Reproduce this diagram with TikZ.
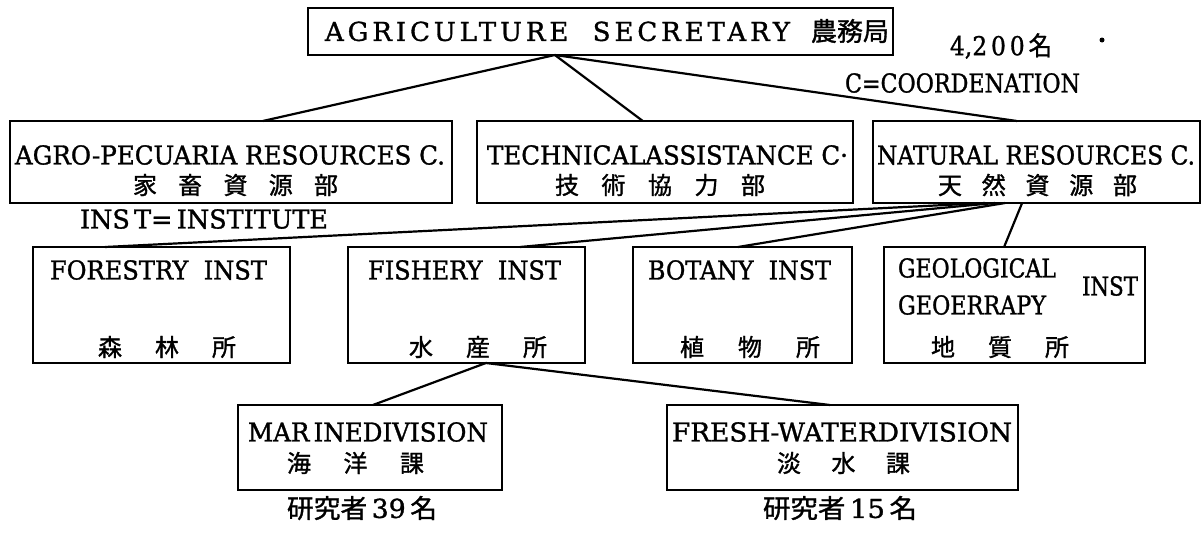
\documentclass[tikz,border=0pt]{standalone}
\usepackage{fontspec}
\setmainfont{DejaVu Serif}[FakeBold=1.2]
\newfontfamily\cjk{Noto Sans CJK JP}[FakeBold=1.2]
\usetikzlibrary{calc}
\newsavebox\fitbx
\newcommand\fitw[2]{\sbox\fitbx{#2}\pgfmathsetmacro\fitfac{#1/(\the\wd\fitbx)}\scalebox{\fitfac}[1]{\usebox\fitbx}}
\newcommand\cjkspread[2]{\makebox[#1pt][s]{\cjk #2}}
\newcommand\bxn[5]{\node[bx, minimum width={(#4-#2)*0.5pt}, minimum height={(#5-#3)*0.5pt}] (#1) at ({(#2+#4)/2},{(#3+#5)/2}) {};}
\begin{document}
\begin{tikzpicture}[x=0.5pt,y=-0.5pt,
  bx/.style={draw, line width=1.3pt, inner sep=0pt, outer sep=0pt},
  tx/.style={inner sep=0pt, font=\fontsize{13}{15}\selectfont},
  cj/.style={inner sep=0pt, font=\fontsize{12}{14}\selectfont\cjk},
  ln/.style={line width=1.1pt}]
\fill[white] (0,0) rectangle (1204,536);
\useasboundingbox (0,0) rectangle (1204,536);
% boxes
\bxn{top}{308}{8}{893}{55}
\bxn{agro}{10}{121}{452}{203}
\bxn{tech}{477}{121}{853}{203}
\bxn{nat}{873}{121}{1200}{203}
\bxn{forest}{33}{247}{290}{363}
\bxn{fish}{348}{247}{585}{363}
\bxn{bot}{633}{247}{852}{363}
\bxn{geo}{884}{247}{1145}{363}
\bxn{marine}{238}{405}{502}{490}
\bxn{fresh}{667}{405}{1018}{490}
% texts
\node[tx] (ttop) at (603.5,31) {\fitw{232.5}{\addfontfeatures{LetterSpace=15}AGRICULTURE\ \ SECRETARY}\hspace{10.5pt}\cjkspread{35.5}{農\hfill 務\hfill 局}};
\node[tx] (n4200) at (1001,46) {\fitw{51}{4,2\,0\,0\,{\cjk 名}}};
\node[circle, fill, inner sep=0pt, minimum size=2.5pt] (dot) at (1102,40) {};
\node[tx] (coord) at (962.5,83) {\fitw{117.5}{C=COORDENATION}};
\node[tx] (agro1) at (230,155) {\fitw{215}{AGRO-PECUARIA RESOURCES C.}};
\node[cj] (agro2) at (235.5,185) {\cjkspread{102.5}{家\hfill 畜\hfill 資\hfill 源\hfill 部}};
\node[tx] (tech1) at (667.5,155) {\fitw{180.5}{TECHNICALASSISTANCE C·}};
\node[cj] (tech2) at (660,185) {\cjkspread{105}{技\hfill 術\hfill 協\hfill 力\hfill 部}};
\node[tx] (nat1) at (1036,155) {\fitw{159}{NATURAL RESOURCES C.}};
\node[cj] (nat2) at (1037.5,185) {\cjkspread{99.5}{天\hfill 然\hfill 資\hfill 源\hfill 部}};
\node[tx] (instdef) at (204,219) {\fitw{124}{INS\,T=\,INSTITUTE}};
\node[tx] (forest1) at (158.5,270) {\fitw{108.5}{FORESTRY\ \ INST}};
\node[cj] (forest2) at (167,347) {\cjkspread{69}{森\hfill 林\hfill 所}};
\node[tx] (fish1) at (464.5,270) {\fitw{96.5}{FISHERY\ \ INST}};
\node[cj] (fish2) at (478,347) {\cjkspread{69}{水\hfill 産\hfill 所}};
\node[tx] (bot1) at (739.5,270) {\fitw{91.5}{BOTANY\ \ INST}};
\node[cj] (bot2) at (750,347) {\cjkspread{70}{植\hfill 物\hfill 所}};
\node[tx] (geo1) at (977,268) {\fitw{79}{GEOLOGICAL}};
\node[tx] (geo2) at (972,305) {\fitw{74}{GEOERRAPY}};
\node[tx] (geo3) at (1110,286) {\fitw{28}{INST}};
\node[cj] (geo4) at (1000,347) {\cjkspread{69}{地\hfill 質\hfill 所}};
\node[tx] (mar1) at (368,432) {\fitw{120}{MAR\,INEDIVISION}};
\node[cj] (mar2) at (355.5,463) {\cjkspread{68.5}{海\hfill 洋\hfill 課}};
\node[tx] (fre1) at (842,432) {\fitw{170}{FRESH-WATERDIVISION}};
\node[cj] (fre2) at (843.5,463) {\cjkspread{66.5}{淡\hfill 水\hfill 課}};
\node[tx] (res39) at (362,508) {\fitw{75}{{\cjk 研究者}\,39\,{\cjk 名}}};
\node[tx] (res15) at (840,508) {\fitw{77}{{\cjk 研究者}\,15\,{\cjk 名}}};
% connectors
\draw[ln] ($(top.south west)!0.422!(top.south east)$) -- ($(agro.north west)!0.572!(agro.north east)$);
\draw[ln] ($(top.south west)!0.422!(top.south east)$) -- ($(tech.north west)!0.441!(tech.north east)$);
\draw[ln] ($(top.south west)!0.422!(top.south east)$) -- ($(nat.north west)!0.44!(nat.north east)$);
\draw[ln] ($(nat.south west)!0.343!(nat.south east)$) -- ($(forest.north west)!0.28!(forest.north east)$);
\draw[ln] ($(nat.south west)!0.373!(nat.south east)$) -- ($(fish.north west)!0.726!(fish.north east)$);
\draw[ln] ($(nat.south west)!0.404!(nat.south east)$) -- ($(bot.north west)!0.479!(bot.north east)$);
\draw[ln] ($(nat.south west)!0.456!(nat.south east)$) -- ($(geo.north west)!0.46!(geo.north east)$);
\draw[ln] ($(fish.south west)!0.582!(fish.south east)$) -- ($(marine.north west)!0.511!(marine.north east)$);
\draw[ln] ($(fish.south west)!0.582!(fish.south east)$) -- ($(fresh.north west)!0.464!(fresh.north east)$);
\end{tikzpicture}
\end{document}
